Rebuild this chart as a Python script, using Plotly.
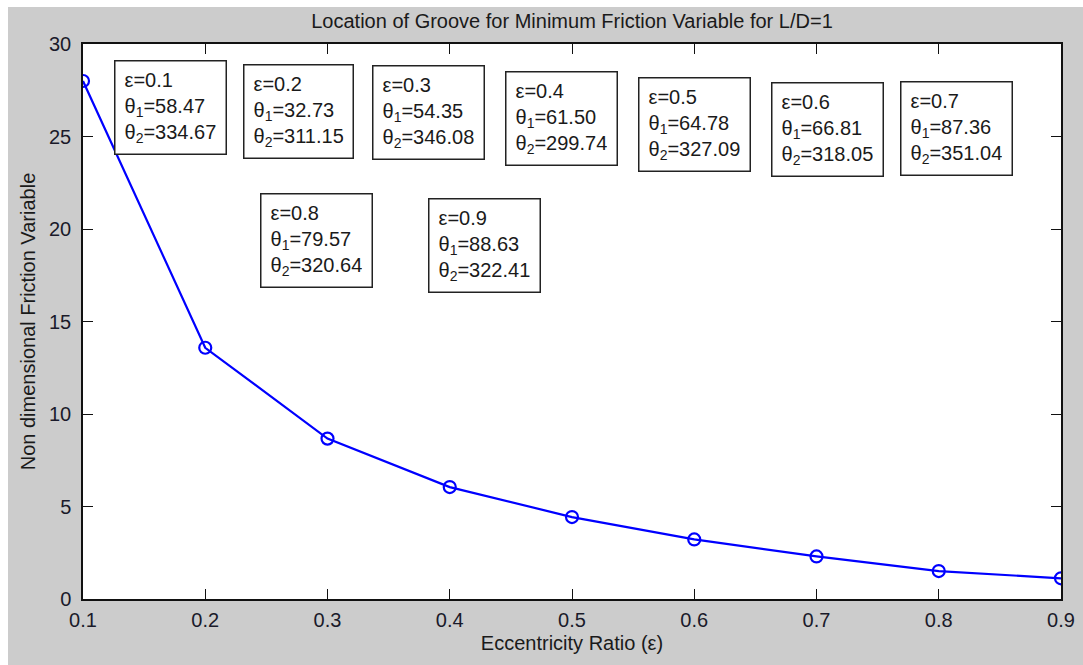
import plotly.graph_objects as go

# Eccentricity ratio and the minimum non-dimensional friction variable (L/D = 1)
eccentricity = [0.1, 0.2, 0.3, 0.4, 0.5, 0.6, 0.7, 0.8, 0.9]
friction_var = [28.0, 13.58, 8.67, 6.05, 4.43, 3.22, 2.30, 1.51, 1.12]

# Groove location angles for each eccentricity ratio
theta1 = ["58.47", "32.73", "54.35", "61.50", "64.78", "66.81", "87.36", "79.57", "88.63"]
theta2 = ["334.67", "311.15", "346.08", "299.74", "327.09", "318.05", "351.04", "320.64", "322.41"]

# Where each note box sits (top-left corner, in axis units)
note_x = [0.1254, 0.2309, 0.3364, 0.4452, 0.5540, 0.6628, 0.7683, 0.2448, 0.3822]
note_y = [29.14, 28.92, 28.86, 28.54, 28.22, 27.95, 28.00, 21.95, 21.68]

BLUE = "rgb(0,0,255)"
GREY = "rgb(204,204,204)"
FONT = "Liberation Sans, Arial, sans-serif"
W, H = 1083, 665
L, R, T, B = 83, 22, 44, 66

fig = go.Figure()
fig.add_trace(go.Scatter(
    x=eccentricity, y=friction_var, mode="lines+markers",
    line=dict(color=BLUE, width=2.2),
    marker=dict(symbol="circle-open", size=12, color=BLUE, line=dict(width=2.2, color=BLUE)),
    showlegend=False, hoverinfo="x+y",
))

notes = []
for i, e in enumerate(eccentricity):
    notes.append(dict(
        x=note_x[i], y=note_y[i], xref="x", yref="y",
        xanchor="left", yanchor="top",
        text=f"ε={e}<br>θ<sub>1</sub>={theta1[i]}<br>θ<sub>2</sub>={theta2[i]}",
        showarrow=False, align="left", valign="middle",
        font=dict(family=FONT, size=20, color="#1a1a1a"),
        bgcolor="white", bordercolor="#222", borderwidth=1.5, borderpad=9,
        height=74,
    ))

plot_w = W - L - R
plot_h = H - T - B
# white strips along the top and left edges of the figure
frame = [
    dict(type="rect", xref="paper", yref="paper", layer="below",
         x0=-L / plot_w, x1=(W - L) / plot_w,
         y0=1 + (T - 7) / plot_h, y1=1 + T / plot_h,
         fillcolor="white", line=dict(width=0)),
    dict(type="rect", xref="paper", yref="paper", layer="below",
         x0=-L / plot_w, x1=-(L - 8) / plot_w,
         y0=-B / plot_h, y1=1 + T / plot_h,
         fillcolor="white", line=dict(width=0)),
]

axis_common = dict(
    showline=True, linecolor="#111", linewidth=1.5, mirror="ticks",
    ticks="inside", ticklen=10, tickwidth=1.2, tickcolor="#111",
    showgrid=False, zeroline=False,
    tickfont=dict(family=FONT, size=20, color="#1a1a2a"),
)

fig.update_layout(
    width=W, height=H,
    margin=dict(l=L, r=R, t=T, b=B, autoexpand=False),
    paper_bgcolor=GREY, plot_bgcolor="white",
    title=dict(text="Location of Groove for Minimum Friction Variable for L/D=1",
               x=(L + plot_w / 2) / W, xanchor="center",
               y=1 - 21 / H, yanchor="middle", yref="container",
               font=dict(family=FONT, size=20, color="#1a1a1a")),
    xaxis=dict(range=[0.1, 0.9], tickvals=eccentricity,
               ticktext=[f"{v:.1f}" for v in eccentricity],
               ticklabelstandoff=2,
               title=dict(text="Eccentricity Ratio (ε)", standoff=6,
                          font=dict(family=FONT, size=20, color="#1a1a1a")),
               **axis_common),
    yaxis=dict(range=[0, 30], tickvals=[0, 5, 10, 15, 20, 25, 30],
               ticklabelstandoff=6,
               title=dict(text="Non dimensional Friction Variable", standoff=8,
                          font=dict(family=FONT, size=20, color="#1a1a1a")),
               **axis_common),
    annotations=notes,
    shapes=frame,
)

fig.write_html("out.html")
